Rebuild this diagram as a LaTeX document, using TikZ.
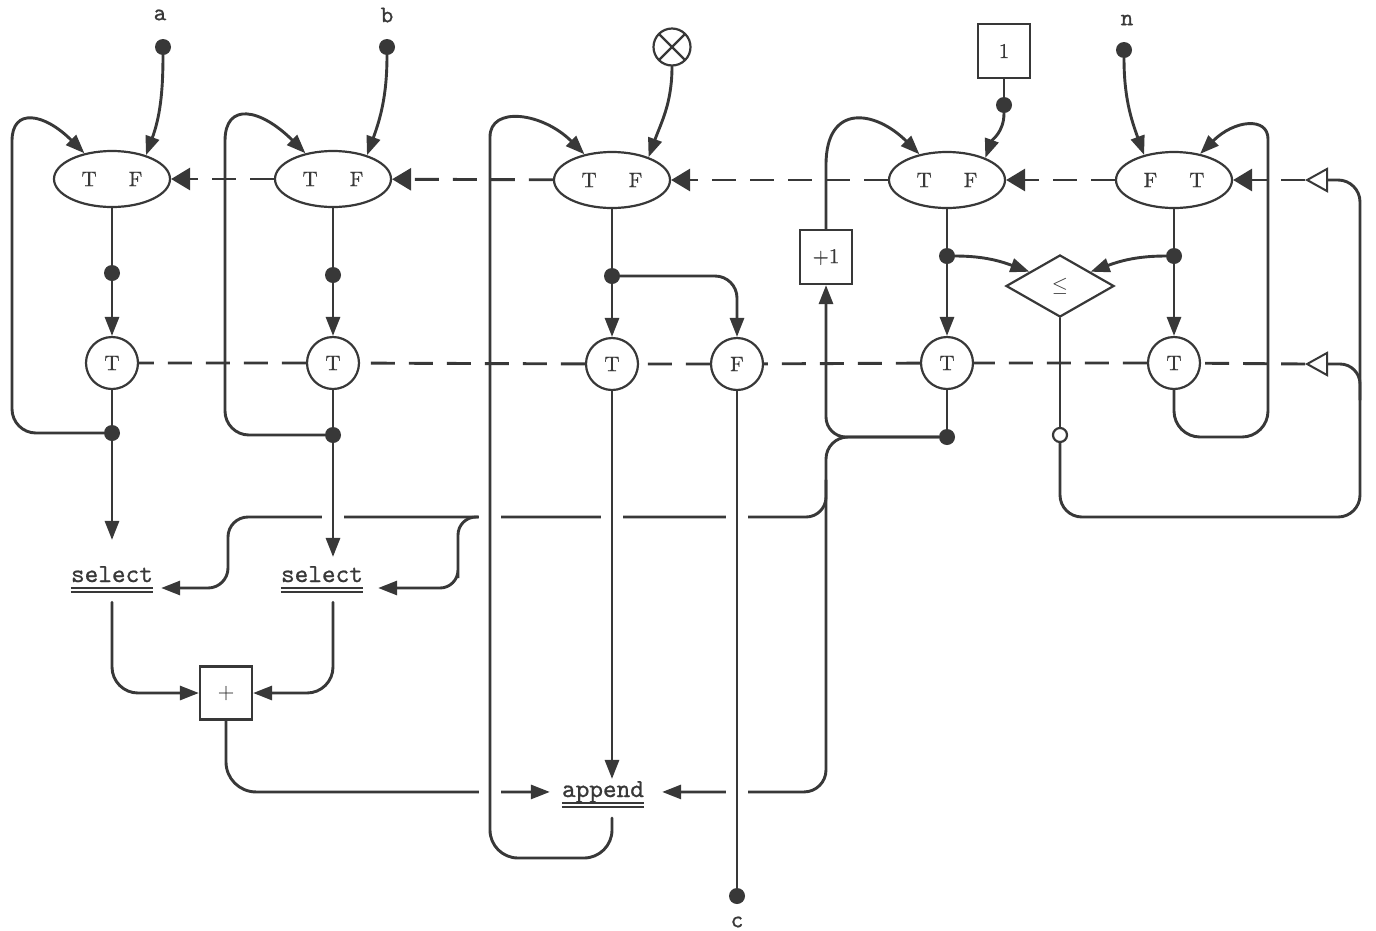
\documentclass[tikz,border=0pt]{standalone}
\usepackage{fontspec}
\setmainfont{lmroman10-regular}[Extension=.otf, FakeBold=0.6]
\setmonofont{lmmono10-regular}[Extension=.otf, FakeBold=0.8]
\usepackage{tikz}
\usetikzlibrary{arrows.meta, positioning, calc, shapes.geometric}
\definecolor{ink}{HTML}{383838}
\tikzset{
  flow/.style={draw=ink, line width=2.9pt, line cap=round},
  ctl/.style={draw=ink, line width=2.9pt, dash pattern=on 24pt off 14pt},
  merge/.style={ellipse, draw=ink, line width=2.2pt, minimum width=116pt, minimum height=56pt, inner sep=0pt},
  gate/.style={circle, draw=ink, line width=2.2pt, minimum size=52pt, inner sep=0pt},
  opbox/.style={rectangle, draw=ink, line width=2.2pt, minimum width=52pt, minimum height=54pt, inner sep=0pt},
  dot/.style={circle, fill=ink, minimum size=16pt, inner sep=0pt},
  hole/.style={circle, draw=ink, line width=2.2pt, fill=white, minimum size=14pt, inner sep=0pt},
  word/.style={font=\fontsize{26}{28}\selectfont\ttfamily, inner sep=0pt, anchor=base},
  lbl/.style={font=\fontsize{24}{28}\selectfont\ttfamily},
  uline/.style={draw=ink, line width=1.6pt},
  ctip/.tip={Triangle[length=19pt, width=22pt]},
  otip/.tip={Triangle[open, length=23pt, width=25pt, line width=2pt]}
}

\begin{document}
\begin{tikzpicture}[x=1pt, y=1pt, >={Triangle[length=19pt, width=14pt]},
    every node/.style={text=ink, font=\fontsize{21}{25}\selectfont}]
  \path[use as bounding box, fill=white] (0,0) rectangle (1376,-930);

  % inputs
  \node[lbl] (la) at (160,-15) {a};
  \node[dot] (pa) at (163,-47) {};
  \node[lbl] (lb) at (387,-15) {b};
  \node[dot] (pb) at (387,-47) {};
  \node[gate, minimum size=37pt, path picture={
      \draw[ink, line width=2.2pt] (path picture bounding box.north west) -- (path picture bounding box.south east)
        (path picture bounding box.north east) -- (path picture bounding box.south west);}] (nil) at (672,-47) {};
  \node[opbox] (one) at (1004,-51) {1};
  \node[dot] (p1) at (1004,-105) {};
  \node[lbl] (ln) at (1127,-20) {n};
  \node[dot] (pn) at (1124,-50) {};

  % merge row
  \node[merge] (m1) at (112,-179) {T\hspace{32pt}F};
  \node[merge] (m2) at (333,-179) {T\hspace{32pt}F};
  \node[merge] (m3) at (612,-180) {T\hspace{32pt}F};
  \node[merge] (m4) at (947,-180) {T\hspace{32pt}F};
  \node[merge] (m5) at (1174,-180) {F\hspace{32pt}T};

  \node[dot] (d1) at (112,-273) {};
  \node[dot] (d2) at (333,-275) {};
  \node[dot] (d3) at (612,-276) {};
  \node[dot] (d4) at (947,-256) {};
  \node[dot] (d5) at (1174,-256) {};

  % gate row
  \node[gate] (g1) at (112,-363) {T};
  \node[gate] (g2) at (333,-363) {T};
  \node[gate] (g3) at (612,-364) {T};
  \node[gate] (g4) at (737,-364) {F};
  \node[gate] (g5) at (947,-363) {T};
  \node[gate] (g6) at (1174,-363) {T};

  \node[dot] (e1) at (112,-433) {};
  \node[dot] (e2) at (333,-435) {};
  \node[dot] (e5) at (947,-437) {};

  \node[diamond, draw=ink, line width=2.2pt, minimum width=108pt, minimum height=62pt, inner sep=0pt] (le) at (1060,-286) {$\leq$};
  \node[hole] (h) at (1060,-435) {};
  \node[opbox] (inc) at (826,-257) {+1};

  \coordinate (t1) at (1305,-180);
  \coordinate (t2) at (1305,-364);
  \coordinate (br) at (826,-480);
  \coordinate (bs) at (478,-517);
  \coordinate (bt) at (1360,-400);

  % operators
  \node[word] (s1) at (112,-582) {select};
  \node[word] (s2) at (322,-582) {select};
  \node[opbox, minimum height=53pt] (add) at (226,-693) {+};
  \node[word] (app) at (603,-797) {append};
  \node[dot] (pc) at (737,-896) {};
  \node[lbl] (lc) at (737,-922) {c};

  \foreach \w in {s1,s2,app}{
    \draw[uline] ([yshift=-6pt]\w.base west) -- ([yshift=-6pt]\w.base east);
    \draw[uline] ([yshift=-10pt]\w.base west) -- ([yshift=-10pt]\w.base east);
  }

  % initial values
  \draw[flow, ->] (pa) to[out=-90, in=70] (m1.35);
  \draw[flow, ->] (pb) to[out=-90, in=70] (m2.35);
  \draw[flow, ->] (nil) to[out=-90, in=70] (m3.32);
  \draw[flow] (one) -- (p1);
  \draw[flow, ->] (p1) to[out=-90, in=70] (m4.30);
  \draw[flow, ->] (pn) to[out=-90, in=110] (m5.140);

  % control lines
  \draw[ctl, -{ctip}] (t1) -- (m5);
  \draw[ctl, -{ctip}] (m5) -- (m4);
  \draw[ctl, -{ctip}] (m4) -- (m3);
  \draw[ctl, -{ctip}] (m3) -- (m2);
  \draw[ctl, -{ctip}] (m2) -- (m1);
  \draw[ctl] (t2) -- (g6) -- (g5) -- (g4) -- (g3) -- (g2) -- (g1);

  \foreach \m/\d/\g in {m1/d1/g1, m2/d2/g2, m3/d3/g3, m4/d4/g5, m5/d5/g6}{
    \draw[flow] (\m) -- (\d);
    \draw[flow, ->] (\d) -- (\g);
  }
  \draw[flow, ->, rounded corners=22pt] (d3) -| (g4);
  \draw[flow, ->] (d4) to[out=0, in=160] (le.155);
  \draw[flow, ->] (d5) to[out=180, in=20] (le.25);
  \draw[flow] (g1) -- (e1);
  \draw[flow] (g2) -- (e2);
  \draw[flow] (g5) -- (e5);

  % feedback loops
  \draw[flow, ->, rounded corners=24pt] (e1) -| (12,-165) [sharp corners] to[out=90, in=135, looseness=2] (m1.137);
  \draw[flow, ->, rounded corners=24pt] (e2) -| (225,-165) [sharp corners] to[out=90, in=135, looseness=2] (m2.137);
  \draw[flow, ->] (inc) -- (826,-165) to[out=90, in=135, looseness=1.7] (m4.137);
  \draw[flow, ->, rounded corners=26pt] (g6) |- (1268,-437) -- (1268,-165) [sharp corners] to[out=90, in=45, looseness=1.8] (m5.45);

  % termination test
  \draw[flow] (le) -- (h);
  \draw[flow, -{otip}, rounded corners=22pt] (h) |- (1360,-517) |- (t1);
  \draw[flow, -{otip}, rounded corners=20pt] (bt) |- (t2);

  % index and data paths
  \draw[flow, ->, rounded corners=20pt] (e5) -| (inc);
  \draw[flow, ->, rounded corners=22pt, shorten >=18pt] (e5) -| (app.east -| inc) -- (app.east);
  \draw[flow, ->, rounded corners=20pt, shorten >=8pt] (br) |- (228,-517) |- ([yshift=-6pt]s1.base east);
  \draw[flow, ->, rounded corners=18pt, shorten >=15pt] (bs) -| (458,-560) |- ([yshift=-6pt]s2.base east);
  \draw[flow, ->, rounded corners=26pt, shorten <=20pt] (s1.south) |- (add.west);
  \draw[flow, ->, rounded corners=26pt, shorten <=20pt] (s2.south -| e2) |- (add.east);
  \draw[flow, ->, rounded corners=30pt, shorten >=12pt] (add) |- (app.west);

  % crossings
  \foreach \x/\y in {333/517, 490/517, 612/517, 737/517, 490/792, 737/792}
    \fill[white] (\x-11,-\y-6) rectangle (\x+11,-\y+6);

  \draw[flow, ->, shorten >=26pt] (e1) -- (e1 |- s1.north);
  \draw[flow, ->, shorten >=9pt] (e2) -- (e2 |- s2.north);
  \draw[flow, ->, shorten >=2pt] (g3) -- (g3 |- app.north);
  \draw[flow] (g4) -- (pc);
  \draw[flow, ->, rounded corners=28pt, shorten <=15pt] (app.south -| g3) |- (490,-858) -- (490,-165) [sharp corners] to[out=90, in=135, looseness=1.6] (m3.137);
\end{tikzpicture}
\end{document}
